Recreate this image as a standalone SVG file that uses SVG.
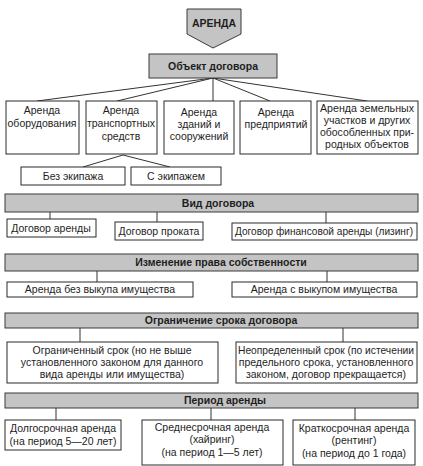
<svg xmlns="http://www.w3.org/2000/svg" width="423" height="466" viewBox="0 0 423 466">
<style>
text{font-family:"Liberation Sans",Arial,sans-serif;font-size:10.5px;fill:#1e1e1e;text-anchor:middle}
.b{font-weight:bold}
.bar{fill:#c4c4c4;stroke:#3a3a3a;stroke-width:1}
.box{fill:#fff;stroke:#2a2a2a;stroke-width:1}
.c line{stroke:#333;stroke-width:1}
</style>
<rect width="423" height="466" fill="#fff"/>
<g class="c" id="connectors">
<line x1="213" y1="78" x2="37" y2="101"/>
<line x1="213" y1="78" x2="117" y2="101"/>
<line x1="213" y1="78" x2="213" y2="101"/>
<line x1="213" y1="78" x2="270" y2="101"/>
<line x1="213" y1="78" x2="367" y2="101"/>
<line x1="123" y1="155" x2="83" y2="167"/>
<line x1="123" y1="155" x2="170" y2="167"/>
<line x1="50" y1="212" x2="50" y2="219"/>
<line x1="157" y1="212" x2="157" y2="222"/>
<line x1="326" y1="212" x2="326" y2="223"/>
<line x1="97" y1="271" x2="97" y2="282"/>
<line x1="327" y1="271" x2="327" y2="282"/>
<line x1="80" y1="328" x2="80" y2="342"/>
<line x1="343" y1="328" x2="343" y2="342"/>
<line x1="56" y1="408" x2="56" y2="420"/>
<line x1="211" y1="408" x2="211" y2="420"/>
<line x1="355" y1="408" x2="355" y2="420"/>
</g>
<g id="arenda">
<polygon class="bar" points="187,9 241,9 241,34 213,48 187,34"/>
<text class="b" x="214" y="27">АРЕНДА</text>
</g>
<g id="obj">
<rect class="bar" x="149" y="54" width="128" height="24"/>
<text class="b" x="213" y="70">Объект договора</text>
</g>
<g id="o1">
<rect class="box" x="6" y="101" width="73" height="53"/>
<text x="42" y="114">Аренда</text>
<text x="42" y="127">оборудования</text>
</g>
<g id="o2">
<rect class="box" x="86" y="101" width="71" height="53"/>
<text x="121" y="114">Аренда</text>
<text x="121" y="127">транспортных</text>
<text x="121" y="140">средств</text>
</g>
<g id="o3">
<rect class="box" x="164" y="101" width="70" height="53"/>
<text x="199" y="116">Аренда</text>
<text x="199" y="128">зданий и</text>
<text x="199" y="140">сооружений</text>
</g>
<g id="o4">
<rect class="box" x="240" y="101" width="71" height="53"/>
<text x="276" y="116">Аренда</text>
<text x="276" y="128">предприятий</text>
</g>
<g id="o5">
<rect class="box" x="317" y="101" width="101" height="53"/>
<text x="367" y="112" textLength="94" lengthAdjust="spacingAndGlyphs">Аренда земельных</text>
<text x="367" y="124">участков и других</text>
<text x="367" y="136" textLength="94" lengthAdjust="spacingAndGlyphs">обособленных при-</text>
<text x="367" y="148">родных объектов</text>
</g>
<g id="s1">
<rect class="box" x="21" y="167" width="104" height="18"/>
<text x="73" y="180">Без экипажа</text>
</g>
<g id="s2">
<rect class="box" x="131" y="167" width="90" height="18"/>
<text x="176" y="180">С экипажем</text>
</g>
<g id="vid">
<rect class="bar" x="5" y="194" width="413" height="18"/>
<text class="b" x="218" y="207">Вид договора</text>
</g>
<g id="v1">
<rect class="box" x="7" y="219" width="89" height="18"/>
<text x="51" y="232">Договор аренды</text>
</g>
<g id="v2">
<rect class="box" x="115" y="222" width="88" height="18"/>
<text x="159" y="235">Договор проката</text>
</g>
<g id="v3">
<rect class="box" x="232" y="223" width="185" height="17"/>
<text x="324" y="235" textLength="178" lengthAdjust="spacingAndGlyphs">Договор финансовой аренды (лизинг)</text>
</g>
<g id="izm">
<rect class="bar" x="5" y="254" width="413" height="17"/>
<text class="b" x="221" y="266">Изменение права собственности</text>
</g>
<g id="i1">
<rect class="box" x="7" y="282" width="186" height="15"/>
<text x="100" y="293">Аренда без выкупа имущества</text>
</g>
<g id="i2">
<rect class="box" x="232" y="282" width="185" height="15"/>
<text x="324" y="293">Аренда с выкупом имущества</text>
</g>
<g id="ogr">
<rect class="bar" x="5" y="313" width="413" height="15"/>
<text class="b" x="221" y="324">Ограничение срока договора</text>
</g>
<g id="g1">
<rect class="box" x="7" y="342" width="211" height="41"/>
<text x="112" y="354">Ограниченный срок (но не выше</text>
<text x="112" y="366">установленного законом для данного</text>
<text x="112" y="378">вида аренды или имущества)</text>
</g>
<g id="g2">
<rect class="box" x="236" y="342" width="181" height="41"/>
<text x="326" y="354" textLength="176" lengthAdjust="spacingAndGlyphs">Неопределенный срок (по истечении</text>
<text x="326" y="366">предельного срока, установленного</text>
<text x="326" y="378">законом, договор прекращается)</text>
</g>
<g id="per">
<rect class="bar" x="5" y="393" width="413" height="15"/>
<text class="b" x="225" y="404">Период аренды</text>
</g>
<g id="p1">
<rect class="box" x="5" y="420" width="116" height="30"/>
<text x="63" y="432">Долгосрочная аренда</text>
<text x="63" y="445">(на период 5—20 лет)</text>
</g>
<g id="p2">
<rect class="box" x="142" y="420" width="141" height="45"/>
<text x="212" y="431">Среднесрочная аренда</text>
<text x="212" y="443">(хайринг)</text>
<text x="212" y="456">(на период 1—5 лет)</text>
</g>
<g id="p3">
<rect class="box" x="293" y="420" width="122" height="45"/>
<text x="354" y="432">Краткосрочная аренда</text>
<text x="354" y="444">(рентинг)</text>
<text x="354" y="457">(на период до 1 года)</text>
</g>
</svg>
